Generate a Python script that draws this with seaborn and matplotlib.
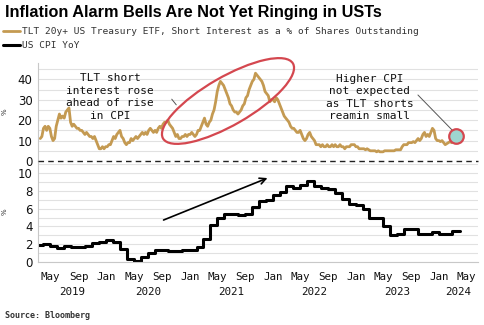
import numpy as np
import pandas as pd
import matplotlib
matplotlib.use("Agg")
import matplotlib.pyplot as plt
import matplotlib.dates as mdates
from matplotlib.patches import Ellipse
from matplotlib.ticker import FixedLocator, FixedFormatter
import seaborn as sns

# ---------------- data ----------------
tlt_start = "2019-03-17"  # weekly observations (Sundays)
tlt_2019 = [11, 12, 16, 17, 15, 17, 16, 12, 10, 11, 17, 20, 23, 21, 22, 21, 24, 25, 26, 19,
            17, 18, 17, 16, 16, 15, 15, 14, 13, 14, 13, 12, 12, 11, 12, 10, 8, 6, 6, 7, 6, 7]
tlt_2020 = [7, 8, 8, 10, 12, 11, 13, 14, 15, 12, 11, 9, 8, 9, 9, 11, 10, 11, 12, 11, 12, 13,
            14, 13, 14, 13, 15, 16, 15, 14, 15, 14, 16, 17, 16, 18, 19, 19, 20, 18, 17, 16,
            14, 12, 13, 11, 11, 12, 12, 13, 12, 13]
tlt_2021 = [13, 14, 13, 12, 13, 15, 15, 17, 19, 21, 18, 17, 19, 20, 23, 25, 29, 34, 37, 39,
            38, 37, 35, 33, 31, 28, 27, 25, 24, 24, 23, 24, 25, 27, 28, 31, 32, 35, 37, 39,
            40, 43, 42, 41, 40, 39, 37, 34, 33, 32, 29, 30]
tlt_2022 = [30, 29, 31, 30, 28, 26, 24, 22, 21, 20, 19, 17, 16, 16, 15, 14, 14, 15, 13, 11,
            10, 11, 13, 14, 12, 11, 10, 8, 8, 8, 7, 8, 7, 7, 8, 7, 7, 8, 7, 8, 7, 7, 8, 7,
            7, 6, 7, 7, 7, 8, 8, 8]
tlt_2023 = [7, 7, 6, 6, 6, 6, 5.5, 6, 5.5, 5, 5, 5, 5, 4.5, 5, 4.5, 4.5, 4.5, 5, 5, 5, 5,
            5, 5, 5, 5.5, 5.5, 5.5, 5.5, 7, 8, 8, 8, 9, 9, 9, 9.5, 9, 10, 11, 10, 11, 13, 14,
            12, 13, 12, 14, 16, 15, 11, 10, 10]
tlt_2024 = [9.5, 10, 9, 8, 8.5, 9, 9.5, 9, 10, 11, 12]

cpi_start = "2019-02-28"  # monthly, month-end
cpi_values = [1.5, 1.9, 2.0, 1.8, 1.6, 1.8, 1.7, 1.7, 1.8, 2.1, 2.3,
              2.5, 2.3, 1.5, 0.3, 0.1, 0.6, 1.0, 1.3, 1.4, 1.2, 1.2, 1.4,
              1.4, 1.7, 2.6, 4.2, 5.0, 5.4, 5.4, 5.3, 5.4, 6.2, 6.8, 7.0,
              7.5, 7.9, 8.5, 8.3, 8.6, 9.1, 8.5, 8.3, 8.2, 7.7, 7.1, 6.5,
              6.4, 6.0, 5.0, 4.9, 4.0, 3.0, 3.2, 3.7, 3.7, 3.2, 3.1, 3.4,
              3.1, 3.2, 3.5]

years = [2019, 2020, 2021, 2022, 2023, 2024]
title = "Inflation Alarm Bells Are Not Yet Ringing in USTs"
tlt_label = "TLT 20y+ US Treasury ETF, Short Interest as a % of Shares Outstanding"
cpi_label = "US CPI YoY"
note_left = "TLT short\ninterest rose\nahead of rise\nin CPI"
note_right = "Higher CPI\nnot expected\nas TLT shorts\nreamin small"
source = "Source: Bloomberg"

tlt_vals = tlt_2019 + tlt_2020 + tlt_2021 + tlt_2022 + tlt_2023 + tlt_2024
tlt = pd.DataFrame({"date": pd.date_range(tlt_start, periods=len(tlt_vals), freq="W-SUN"),
                    "value": tlt_vals})
cpi = pd.DataFrame({"date": pd.date_range(cpi_start, periods=len(cpi_values), freq="ME"),
                    "value": cpi_values})

# ---------------- style ----------------
sns.set_theme(style="white")
plt.rcParams["font.family"] = ["DejaVu Sans"]
TAN = "#C49A52"
GRID = "#E1E1E1"
SPINE = "#C8C8C8"
MONO = "DejaVu Sans Mono"

W, H = 485, 325
fig = plt.figure(figsize=(W / 100, H / 100), dpi=100)
L, R = 38 / W, 478 / W
ax2 = fig.add_axes([L, 1 - 262 / H, R - L, (262 - 161) / H])
ax1 = fig.add_axes([L, 1 - 161 / H, R - L, (161 - 63) / H], sharex=ax2)
ax1.patch.set_visible(False)

sns.lineplot(data=tlt, x="date", y="value", ax=ax1, color=TAN, lw=2.0,
             estimator=None, sort=False, label=tlt_label, legend=False)
sns.lineplot(data=cpi, x="date", y="value", ax=ax2, color="black", lw=2.2,
             estimator=None, sort=False, drawstyle="steps-pre", label=cpi_label, legend=False)

# end-point marker
last = tlt.iloc[-1]
ax1.scatter([last["date"]], [last["value"]], s=110, facecolor="#9ED6CF",
            edgecolor="#D4474F", linewidth=1.6, zorder=5)

xmin, xmax = pd.Timestamp("2019-03-07"), pd.Timestamp("2024-06-20")
ax1.set_xlim(xmin, xmax)
ax1.set_ylim(0, 48)
ax2.set_ylim(0, 11.35)

for ax, yt, ymin in ((ax1, [0, 10, 20, 30, 40], 5), (ax2, [0, 2, 4, 6, 8, 10], 1)):
    ax.set_yticks(yt)
    ax.set_yticks(np.arange(0, ax.get_ylim()[1], ymin), minor=True)
    ax.grid(True, which="both", axis="y", color=GRID, lw=0.8)
    ax.grid(False, axis="x")
    ax.set_axisbelow(True)
    for s in ("top", "right"):
        ax.spines[s].set_visible(False)
    ax.spines["left"].set_color(SPINE)
    ax.spines["left"].set_linewidth(0.8)
    ax.tick_params(axis="y", which="both", length=0, labelsize=8.5, pad=4, colors="#111111")
    ax.set_xlabel("")
    ax.set_ylabel("%", fontsize=5, color="#333333")
    ax.yaxis.set_label_coords(-0.068, 0.5)

ax1.spines["bottom"].set_visible(False)
ax1.axhline(0, color="#222222", lw=1.0, ls=(0, (4, 3)), clip_on=False, zorder=4)
ax1.tick_params(axis="x", which="both", bottom=False, labelbottom=False)
ax2.spines["bottom"].set_color(SPINE)
ax2.spines["bottom"].set_linewidth(0.8)

# x ticks: months (Jan/May/Sep) and years centred on their visible span
ax2.xaxis.set_major_locator(mdates.MonthLocator(bymonth=[1, 5, 9]))
ax2.xaxis.set_major_formatter(mdates.DateFormatter("%b"))
year_pos = []
for y in years:
    a = max(pd.Timestamp(f"{y}-01-01"), xmin)
    b = min(pd.Timestamp(f"{y + 1}-01-01"), xmax)
    year_pos.append(mdates.date2num(a + (b - a) / 2))
ax2.xaxis.set_minor_locator(FixedLocator(year_pos))
ax2.xaxis.set_minor_formatter(FixedFormatter([str(y) for y in years]))
ax2.tick_params(axis="x", which="major", length=3, width=0.6, color=SPINE, pad=4)
ax2.tick_params(axis="x", which="minor", length=0, pad=18)
for lab in ax2.get_xticklabels(which="both"):
    lab.set_fontfamily(MONO)
    lab.set_fontsize(7.8)
    lab.set_color("#111111")

# arrow in CPI panel
ax2.annotate("", xy=(pd.Timestamp("2021-12-20"), 9.55), xytext=(pd.Timestamp("2020-08-28"), 4.6),
             arrowprops=dict(arrowstyle="->", lw=1.2, color="black", mutation_scale=11))

# ellipse highlight
ell = Ellipse((2.28, 2.24), 1.50, 0.48, angle=30, transform=fig.dpi_scale_trans,
              fill=False, edgecolor="#D4474F", lw=1.6, zorder=6)
fig.add_artist(ell)

# notes
fig.text(110 / W, 1 - 97 / H, note_left, ha="center", va="center", family=MONO,
         fontsize=8, color="#111111", linespacing=1.3)
fig.text(370 / W, 1 - 97.5 / H, note_right, ha="center", va="center", family=MONO,
         fontsize=8, color="#111111", linespacing=1.3)
ax1.annotate("", xy=(178, H - 107), xycoords="figure pixels", xytext=(170, H - 97),
             textcoords="figure pixels", arrowprops=dict(arrowstyle="-", lw=0.7, color="#555555"))
ax1.annotate("", xy=(455, H - 133), xycoords="figure pixels", xytext=(416, H - 93),
             textcoords="figure pixels", arrowprops=dict(arrowstyle="-", lw=0.7, color="#555555"))

# title, legend, source
fig.text(5 / W, 1 - 12.5 / H, title, ha="left", va="center", fontsize=11.7,
         fontweight="bold", color="black", family="Liberation Sans")
h1 = ax1.get_lines()[0]
h2 = ax2.get_lines()[0]
fig.legend([h1, h2], [tlt_label, cpi_label], loc="upper left",
           bbox_to_anchor=(0.0, 1 - 24 / H), frameon=False,
           prop={"family": MONO, "size": 6.8}, handlelength=1.8, handletextpad=0.2,
           labelspacing=0.6, borderpad=0.3, borderaxespad=0.0, labelcolor="#333333")
fig.text(5 / W, 1 - 316 / H, source, ha="left", va="center", family=MONO,
         fontsize=6, fontweight="bold", color="#333333")

fig.savefig("out.png", dpi=100)
